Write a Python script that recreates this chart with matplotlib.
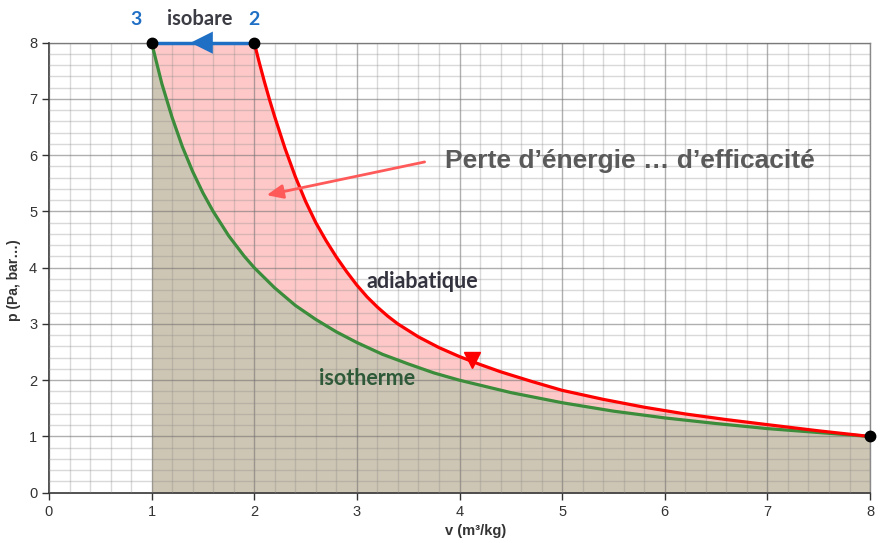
import matplotlib
matplotlib.use("Agg")
import matplotlib.pyplot as plt
import numpy as np
from matplotlib.ticker import MultipleLocator

# ---- data ----
iso_v = [1.0, 1.1, 1.2, 1.3, 1.4, 1.5, 1.6, 1.75, 1.9, 2.0, 2.2, 2.4, 2.6, 2.8, 3.0,
         3.25, 3.5, 3.75, 4.0, 4.5, 5.0, 5.5, 6.0, 6.5, 7.0, 7.5, 8.0]
iso_p = [8.0, 7.27, 6.67, 6.15, 5.71, 5.33, 5.0, 4.57, 4.21, 4.0, 3.64, 3.33, 3.08, 2.86, 2.67,
         2.46, 2.29, 2.13, 2.0, 1.78, 1.6, 1.45, 1.33, 1.23, 1.14, 1.07, 1.0]

adia_v = [2.0, 2.05, 2.1, 2.15, 2.2, 2.3, 2.4, 2.5, 2.6, 2.7, 2.8, 2.9, 3.0, 3.1, 3.2, 3.3,
          3.4, 3.6, 3.8, 4.0, 4.2, 4.4, 4.7, 5.0, 5.4, 5.8, 6.2, 6.6, 7.0, 7.5, 8.0]
adia_p = [8.0, 7.64, 7.3, 6.98, 6.68, 6.12, 5.62, 5.18, 4.8, 4.48, 4.19, 3.93, 3.69, 3.48,
          3.3, 3.14, 3.0, 2.77, 2.58, 2.42, 2.28, 2.15, 1.98, 1.82, 1.66, 1.52, 1.40, 1.30,
          1.21, 1.10, 1.0]

isobar_v = [2.0, 1.0]
isobar_p = [8.0, 8.0]

points_v = [1.0, 2.0, 8.0]
points_p = [8.0, 8.0, 1.0]

x_ticks = [0, 1, 2, 3, 4, 5, 6, 7, 8]
y_ticks = [0, 1, 2, 3, 4, 5, 6, 7, 8]

fig = plt.figure(figsize=(8.84, 5.43), dpi=100)
ax = fig.add_axes([0.0554, 0.0926, 0.9288, 0.8288])

ax.set_xlim(0, 8)
ax.set_ylim(0, 8)

# fills
brown = "#CEC6B4"
pink = "#FFC8C8"
ax.fill_between(iso_v, 0, iso_p, color=brown, lw=0, zorder=1)
up_v = list(reversed(isobar_v)) + adia_v[1:]
up_p = list(reversed(isobar_p)) + adia_p[1:]
poly_v = up_v + list(reversed(iso_v))
poly_p = up_p + list(reversed(iso_p))
ax.fill(poly_v, poly_p, color=pink, lw=0, zorder=1)

# grid
ax.xaxis.set_major_locator(MultipleLocator(1))
ax.yaxis.set_major_locator(MultipleLocator(1))
ax.xaxis.set_minor_locator(MultipleLocator(0.2))
ax.yaxis.set_minor_locator(MultipleLocator(0.2))
ax.grid(which="minor", color="#8c8c8c", alpha=0.33, lw=1.0, zorder=1.5)
ax.grid(which="major", color="#6e6e6e", alpha=0.55, lw=1.0, zorder=1.6)
ax.set_axisbelow(False)
ax.tick_params(which="minor", length=0)
ax.tick_params(which="major", length=5, width=1, color="#333333", direction="out",
               labelsize=10.5, labelcolor="#333333")
ax.set_xticks(x_ticks)
ax.set_yticks(y_ticks)
for lab in ax.get_xticklabels() + ax.get_yticklabels():
    lab.set_fontfamily("Liberation Sans")

for s in ["left", "bottom"]:
    ax.spines[s].set_color("#333333")
    ax.spines[s].set_linewidth(1.2)
for s in ["top", "right"]:
    ax.spines[s].set_color("#8a8a8a")
    ax.spines[s].set_linewidth(1.0)

# curves
ax.plot(iso_v, iso_p, color="#3B8C3B", lw=2.3, zorder=4, solid_capstyle="round")
ax.plot(adia_v, adia_p, color="#FF0000", lw=2.3, zorder=4, solid_capstyle="round",
        solid_joinstyle="round")
ax.plot(isobar_v, isobar_p, color="#1F6FC5", lw=2.5, zorder=4, clip_on=False)

# isobar arrow head
ax.annotate("", xy=(1.38, 8.0), xytext=(1.62, 8.0),
            arrowprops=dict(arrowstyle="-|>,head_length=0.8,head_width=0.4",
                            mutation_scale=20, color="#1F6FC5", lw=0,
                            shrinkA=0, shrinkB=0),
            zorder=5, annotation_clip=False)
# adiabat arrow head
ax.plot([4.12], [2.36], marker="v", color="#FF0000", markersize=12, zorder=5)

# points
ax.plot(points_v, points_p, "o", color="black", markersize=7.5, zorder=6, clip_on=False)

# annotation arrow
ax.annotate("", xy=(2.12, 5.29), xytext=(3.66, 5.88),
            arrowprops=dict(arrowstyle="-|>,head_length=0.7,head_width=0.3",
                            mutation_scale=14, color="#FF5A5A", lw=2,
                            shrinkA=0, shrinkB=0), zorder=5)

ax.text(3.86, 5.9, "Perte d\u2019\u00e9nergie \u2026 d\u2019efficacit\u00e9", fontsize=19,
        fontweight="bold", color="#5A5A5A", family="Liberation Sans", va="center", ha="left",
        zorder=6)

ax.text(1.47, 8.42, "isobare", fontsize=14.5, fontweight="bold", color="#3C3C44",
        family="Lato", ha="center", va="center", clip_on=False)
ax.text(0.85, 8.42, "3", fontsize=14, fontweight="bold", color="#1F6FC5",
        family="Lato", ha="center", va="center", clip_on=False)
ax.text(2.0, 8.42, "2", fontsize=14, fontweight="bold", color="#1F6FC5",
        family="Lato", ha="center", va="center", clip_on=False)
ax.text(3.64, 3.76, "adiabatique", fontsize=15.5, fontweight="bold", color="#33333F",
        family="Lato", ha="center", va="center", zorder=6)
ax.text(3.1, 2.03, "isotherme", fontsize=15.5, fontweight="bold", color="#2E5A3A",
        family="Lato", ha="center", va="center", zorder=6)

fig.text(476 / 884, 1 - 531 / 543, "v (m\u00b3/kg)", fontsize=10.5, fontweight="bold",
         color="#333333", family="Liberation Sans", ha="center", va="center")
fig.text(14 / 884, 1 - 280 / 543, "p (Pa, bar\u2026)", fontsize=10, fontweight="bold",
         color="#333333", family="Liberation Sans", ha="center", va="center", rotation=90)

fig.savefig("out.png", dpi=100)
